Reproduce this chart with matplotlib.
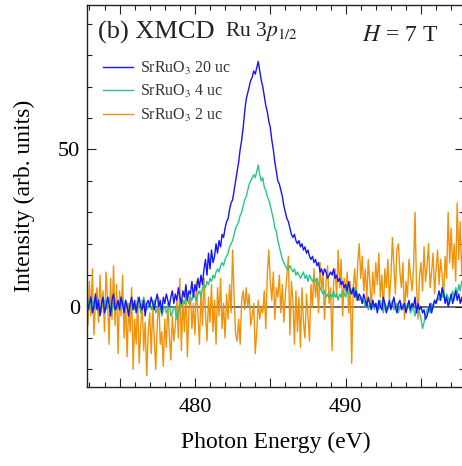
import numpy as np
import matplotlib
matplotlib.use("Agg")
import matplotlib.pyplot as plt
from matplotlib.ticker import MultipleLocator, FuncFormatter

plt.rcParams['font.family'] = ['Liberation Serif', 'DejaVu Serif']
plt.rcParams['mathtext.fontset'] = 'stix'

# ---- data (0.1 eV step starting at 472.8 eV) ----
e_start = 472.8
e_step = 0.1

blue_20uc = [
    2, -1,
    1, 3, -2, 0, 4, -1, 2, -3, 1, 3,
    -2, 0, 3, 1, -3, 2, 4, -1, 0, 2,
    -1, 3, 1, -2, 2, 0, -3, 1, 3, -1,
    2, -2, 1, 3, 0, -1, 2, -3, 1, 2,
    0, 3, 1, -1, 2, 4, 0, 2, -2, 3,
    1, 4, 2, 0, 3, 5, 1, 4, 2, 6,
    3, 1, 5, 3, 7, 2, 5, 4, 8, 3,
    7, 5, 9, 6, 10, 7, 12, 15, 10, 17,
    12, 18, 14, 16, 20, 17, 21, 19, 23, 22,
    25, 27, 28, 31, 33, 34, 37, 40, 43, 46,
    50, 53, 57, 62, 66, 68, 70, 72, 73, 75,
    74, 76, 78, 75, 72, 70, 67, 64, 62, 59,
    57, 53, 50, 46, 43, 40, 39, 37, 35, 32,
    30, 28, 27, 25, 23, 22, 23, 21, 20, 21,
    19, 20, 18, 19, 17, 18, 16, 15, 16, 14,
    15, 13, 14, 11, 12, 10, 12, 11, 9, 10,
    11, 10, 12, 9, 10, 8, 9, 7, 8, 6,
    7, 5, 8, 5, 4, 6, 3, 5, 2, 4,
    3, 1, 4, 2, 0, 3, 1, -1, 2, 0,
    1, -2, 2, 0, -1, 3, 1, -2, 0, 2,
    -1, 1, 3, 0, -2, 1, 2, -1, 0, 1,
    -2, 0, 2, -1, 1, 0, 3, -2, 1, -1,
    0, -2, -1, -4, -3, -1, 1, -2, 0, 2,
    1, 3, 5, 2, 6, 4, 1, 3, 0, 2,
    4, 1, 3, 5, 2, 4, 1, 3, 0, 2,
]

green_4uc = [
    0, 2,
    -1, 1, 2, -1, 0, 3, 1, -2, 0, 1,
    2, -1, 1, 3, 0, -2, 1, 2, -1, 0,
    1, 3, 0, -1, 2, 1, -2, 0, 2, 1,
    -1, 0, 2, 1, -2, 0, 3, 1, -1, 0,
    1, -1, 0, 2, -2, -1, 1, 0, -3, -1,
    0, -2, -1, 1, -3, -2, 0, -1, -4, -2,
    1, 0, 2, 1, 3, 2, 1, 3, 2, 4,
    3, 2, 4, 5, 3, 6, 7, 6, 8, 7,
    9, 8, 10, 9, 11, 12, 11, 13, 14, 13,
    15, 16, 17, 19, 20, 21, 23, 25, 26, 27,
    29, 30, 32, 34, 35, 37, 39, 40, 41, 42,
    41, 43, 45, 42, 40, 41, 38, 37, 35, 34,
    32, 30, 28, 25, 24, 21, 19, 17, 15, 14,
    13, 12, 12, 13, 12, 11, 12, 10, 11, 10,
    9, 10, 11, 9, 10, 8, 10, 9, 8, 9,
    8, 9, 7, 6, 5, 4, 5, 3, 4, 3,
    4, 3, 5, 3, 4, 2, 4, 3, 5, 4,
    3, 5, 4, 6, 5, 4, 6, 3, 4, 2,
    3, 1, 2, 0, 2, -1, 1, 0, 2, -1,
    1, 0, -1, 2, 0, -2, 1, 0, -1, 1,
    0, 2, -1, 0, 1, -2, 0, 1, -1, 0,
    -1, 1, 0, -2, -1, 0, -3, -1, 0, -2,
    -4, -7, -5, -3, -1, 0, -2, 1, 0, 2,
    1, 3, 2, 4, 3, 5, 2, 4, 3, 1,
    3, 5, 2, 6, 4, 7, 5, 8, 6, 7,
]

orange_2uc = [
    4, -6,
    8, -3, 12, -9, 2, 6, -5, 10, -2, 5,
    -8, 11, 3, -12, 9, -4, 13, -6, 7, -15,
    5, -3, 10, -10, 2, -16, 1, -8, 6, -20,
    -4, -12, 3, -18, -7, 2, -14, -5, -22, -8,
    -2, -15, 0, -10, -20, -6, 3, -12, -8, -19,
    -4, -13, 1, -9, -17, -3, -11, -6, 2, -10,
    9, -14, 2, -8, 6, -16, -1, 4, -7, 1,
    -9, 8, -3, -12, 5, -6, 9, -2, -11, 3,
    -5, 7, -8, 2, -12, 6, -3, 9, -7, 1,
    -10, 4, -4, 7, -2, 18, 3, -9, -11, -4,
    -12, 2, 5, -1, 6, 0, 4, -6, -3, 1,
    -15, -8, 2, -4, 0, -2, 5, -7, 10, 18,
    8, 2, 11, -4, 6, 3, 10, -2, 7, -5,
    4, 10, 16, -9, 8, 2, -12, 5, -8, 3,
    -13, 6, -5, -10, 4, -3, -11, 7, 0, 12,
    3, 9, -2, 14, 5, 10, -4, 8, 13, 1,
    6, -14, 8, 12, 3, 18, 6, 15, -3, 9,
    4, 11, -2, 8, -18, 6, 12, 2, 14, 20,
    9, 16, 5, 12, 2, 15, 8, -1, 11, 4,
    14, 7, 17, 3, 10, -1, 12, 6, 15, 2,
    9, 22, 13, 4, 18, 20, 11, 6, 14, -4,
    8, 3, 15, 10, 5, 12, 30, 7, -4, 10,
    14, 5, 19, 8, 13, 20, 6, 11, 17, 4,
    12, 18, 7, 15, 10, 3, 16, 9, 30, 14,
    25, 12, 20, 8, 33, 15, 27, 10, 22, 18,
]

labels = ['SrRuO$_3$ 20 uc', 'SrRuO$_3$ 4 uc', 'SrRuO$_3$ 2 uc']
colors = ['#1414ff', '#2cc485', '#f0920a']
x_labeled_ticks = [480, 490]
y_labeled_ticks = [0, 50]

energy = np.round(e_start + e_step * np.arange(len(blue_20uc)), 2)

fig = plt.figure(figsize=(4.62, 4.66), dpi=100)
ax = fig.add_axes([0.1877, 0.1702, 0.8166, 0.8191])

ax.axhline(0, color='#444444', lw=1.1, zorder=1)
for series, lab, col in zip([blue_20uc, green_4uc, orange_2uc][::-1], labels[::-1], colors[::-1]):
    ax.plot(energy, series, color=col, lw=1.0, label=lab, zorder=2)

ax.set_xlim(472.82, 497.85)
ax.set_ylim(-25.5, 96)

ax.xaxis.set_major_locator(MultipleLocator(5))
ax.xaxis.set_minor_locator(MultipleLocator(1))
ax.yaxis.set_major_locator(MultipleLocator(50))
ax.yaxis.set_minor_locator(MultipleLocator(10))
ax.xaxis.set_major_formatter(FuncFormatter(lambda v, p: f"{v:.0f}" if round(v) in x_labeled_ticks else ""))
ax.yaxis.set_major_formatter(FuncFormatter(lambda v, p: f"{v:.0f}" if round(v) in y_labeled_ticks else ""))

ax.tick_params(which='both', direction='in', top=True, right=True, width=0.8, color='#222222')
ax.tick_params(which='major', length=6.5, labelsize=16)
ax.tick_params(axis='x', which='major', pad=8)
ax.tick_params(axis='y', which='major', pad=5)
ax.tick_params(which='minor', length=3.6)
for s in ax.spines.values():
    s.set_linewidth(1.0)
    s.set_color('#222222')

ax.set_xlabel('Photon Energy (eV)', fontsize=17, labelpad=11)
ax.set_ylabel('Intensity (arb. units)', fontsize=17, labelpad=16)

ax.text(0.03, 0.912, '(b) XMCD', transform=ax.transAxes, fontsize=19, color='#222222')
ax.text(0.366, 0.918, 'Ru 3$p_{1/2}$', transform=ax.transAxes, fontsize=15.5, color='#222222')
ax.text(0.73, 0.905, '$H$ = 7 T', transform=ax.transAxes, fontsize=17, color='#222222')

handles, labs = ax.get_legend_handles_labels()
leg = ax.legend(handles[::-1], labs[::-1], loc='upper left', bbox_to_anchor=(0.043, 0.857),
                frameon=False, fontsize=11.5, handlelength=1.9, handletextpad=0.45,
                labelspacing=0.4, borderpad=0, borderaxespad=0)
for t in leg.get_texts():
    t.set_color('#333333')

fig.savefig('out.png', dpi=100)
